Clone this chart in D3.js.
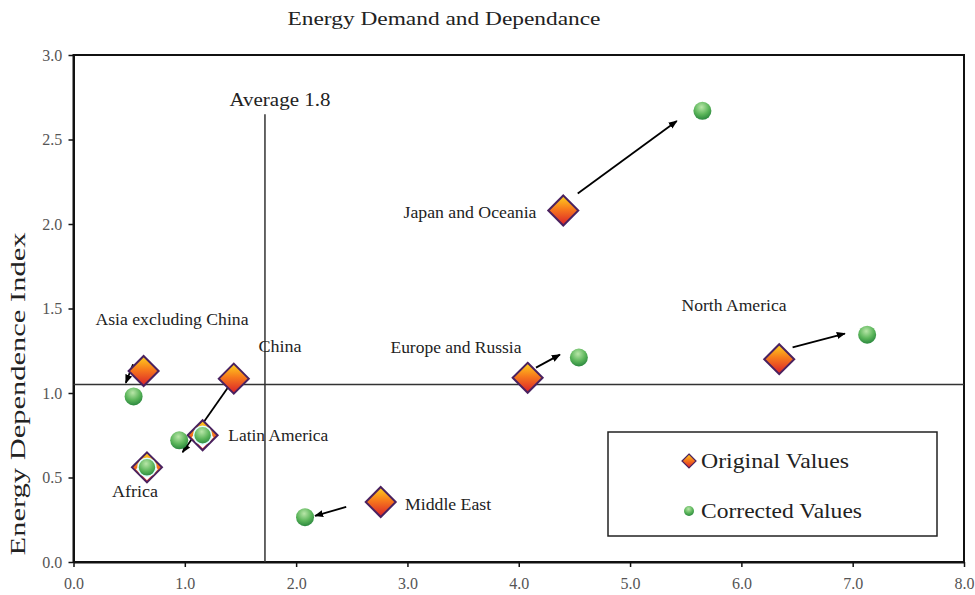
<!DOCTYPE html>
<html><head><meta charset="utf-8">
<script src="https://cdn.jsdelivr.net/npm/d3@7"></script>
<style>body{margin:0;background:#fff}text{font-family:"Liberation Serif","Times New Roman",serif}</style>
</head><body><svg id="c" width="975" height="595"></svg>
<script>
const regions = ["Asia excluding China","China","Latin America","Africa","Middle East","Europe and Russia","Japan and Oceania","North America"];
const origX = [0.63,1.44,1.16,0.66,2.76,4.08,4.40,6.34];
const origY = [1.13,1.085,0.75,0.56,0.355,1.09,2.08,1.20];
const corrX = [0.54,0.95,1.16,0.66,2.08,4.54,5.65,7.13];
const corrY = [0.98,0.72,0.75,0.56,0.265,1.21,2.67,1.345];
const arrowFromX = [0.535,1.40,null,null,2.45,4.155,4.53,6.46];
const arrowFromY = [1.17,1.045,null,null,0.326,1.15,2.18,1.27];
const arrowToX = [0.47,0.98,null,null,2.17,4.37,5.42,6.93];
const arrowToY = [1.06,0.65,null,null,0.273,1.227,2.61,1.352];
const labelX = [0.885,1.855,1.84,0.553,3.365,3.436,3.562,5.934];
const labelY = [1.405,1.245,0.717,0.385,0.308,1.239,2.033,1.488];
const labelLen = [153,43,100,46,86,131,133,105];
const xTicks = [0,1,2,3,4,5,6,7,8];
const yTicks = [0,0.5,1,1.5,2,2.5,3];
const avgX = 1.72, avgLabel = "Average 1.8", avgTop = 2.65;
const hLineY = 1.05;
const title = "Energy Demand and Dependance";
const yTitle = "Energy Dependence Index";
const legendLabels = ["Original Values","Corrected Values"];
const legendLen = [148,161];

const svg = d3.select("#c");
const L=73.5,R=964,T=55,B=562;
const x = d3.scaleLinear().domain([0,8]).range([L,R]);
const y = d3.scaleLinear().domain([0,3]).range([B,T]);

const defs = svg.append("defs");
const dg = defs.append("linearGradient").attr("id","dg").attr("x1",0).attr("y1",0).attr("x2",0).attr("y2",1);
dg.append("stop").attr("offset","0%").attr("stop-color","#ffd21e");
dg.append("stop").attr("offset","45%").attr("stop-color","#f77a1c");
dg.append("stop").attr("offset","100%").attr("stop-color","#d81e2c");
const cg = defs.append("radialGradient").attr("id","cg").attr("cx","45%").attr("cy","30%").attr("r","75%");
cg.append("stop").attr("offset","0%").attr("stop-color","#b8e6a8");
cg.append("stop").attr("offset","55%").attr("stop-color","#5bb55a");
cg.append("stop").attr("offset","100%").attr("stop-color","#23803a");
defs.append("marker").attr("id","ah").attr("viewBox","0 0 10 10").attr("refX",9).attr("refY",5)
  .attr("markerWidth",9).attr("markerHeight",9).attr("markerUnits","userSpaceOnUse").attr("orient","auto")
  .append("path").attr("d","M0,1 L10,5 L0,9 Z").attr("fill","#000");

svg.append("text").attr("x",444).attr("y",25).attr("text-anchor","middle").attr("font-size",19).attr("fill","#222")
  .attr("textLength",313).attr("lengthAdjust","spacingAndGlyphs").text(title);

// frame
svg.append("rect").attr("x",L).attr("y",T).attr("width",R-L).attr("height",B-T).attr("fill","none").attr("stroke","#111").attr("stroke-width",2);

const xa = svg.append("g").attr("transform",`translate(0,${B})`).call(d3.axisBottom(x).tickValues(xTicks).tickFormat(d3.format(".1f")).tickSize(5).tickSizeOuter(0));
const ya = svg.append("g").attr("transform",`translate(${L},0)`).call(d3.axisLeft(y).tickValues(yTicks).tickFormat(d3.format(".1f")).tickSize(5).tickSizeOuter(0));
[xa,ya].forEach(a=>{a.select(".domain").attr("stroke","#111").attr("stroke-width",2);
  a.selectAll(".tick line").attr("stroke","#111").attr("stroke-width",1.5);
  a.selectAll(".tick text").attr("font-family","Liberation Serif, serif").attr("font-size",16).attr("fill","#555");});
xa.selectAll(".tick text").attr("dy","1.2em");
ya.selectAll(".tick text").attr("dx","-0.2em");

svg.append("text").attr("transform",`translate(25,${394}) rotate(-90)`).attr("text-anchor","middle").attr("font-size",22).attr("fill","#222")
  .attr("textLength",323).attr("lengthAdjust","spacingAndGlyphs").text(yTitle);

// reference lines
svg.append("line").attr("x1",x(0)).attr("x2",x(8)).attr("y1",y(hLineY)).attr("y2",y(hLineY)).attr("stroke","#333").attr("stroke-width",1.5);
svg.append("line").attr("x1",x(avgX)).attr("x2",x(avgX)).attr("y1",y(0)).attr("y2",y(avgTop)).attr("stroke","#333").attr("stroke-width",1.5);
svg.append("text").attr("x",x(avgX)+15).attr("y",y(avgTop)-8).attr("text-anchor","middle").attr("font-size",19).attr("fill","#222")
  .attr("textLength",101).attr("lengthAdjust","spacingAndGlyphs").text(avgLabel);

const idx = d3.range(regions.length);
const dia = s=>`M0,${-s} L${s},0 L0,${s} L${-s},0 Z`;

// arrows
svg.selectAll(".arr").data(idx.filter(i=>arrowFromX[i]!==null)).join("line")
  .attr("x1",i=>x(arrowFromX[i])).attr("y1",i=>y(arrowFromY[i]))
  .attr("x2",i=>x(arrowToX[i])).attr("y2",i=>y(arrowToY[i]))
  .attr("stroke","#000").attr("stroke-width",1.8).attr("marker-end","url(#ah)");

// diamonds
svg.selectAll(".d").data(idx).join("path")
  .attr("transform",i=>`translate(${x(origX[i])},${y(origY[i])})`)
  .attr("d",dia(15)).attr("fill","url(#dg)").attr("stroke","#4a2260").attr("stroke-width",2);
// halo for overlapping
svg.selectAll(".h").data(idx.filter(i=>corrX[i]===origX[i]&&corrY[i]===origY[i])).join("path")
  .attr("transform",i=>`translate(${x(origX[i])},${y(origY[i])+2})`)
  .attr("d",dia(11)).attr("fill","#fff");
// circles
svg.selectAll(".c").data(idx).join("circle")
  .attr("cx",i=>x(corrX[i])).attr("cy",i=>y(corrY[i])).attr("r",9)
  .attr("fill","url(#cg)").attr("stroke",i=>(corrX[i]===origX[i])?"#dff":"none").attr("stroke-width",1.5);

// labels
svg.selectAll(".lb").data(idx).join("text")
  .attr("x",i=>x(labelX[i])).attr("y",i=>y(labelY[i])).attr("text-anchor","middle")
  .attr("font-size",16).attr("fill","#222")
  .attr("textLength",i=>labelLen[i]).attr("lengthAdjust","spacingAndGlyphs").text(i=>regions[i]);

// legend
const lg = svg.append("g");
lg.append("rect").attr("x",608).attr("y",432).attr("width",329).attr("height",104).attr("fill","#fff").attr("stroke","#222").attr("stroke-width",1.5);
lg.append("path").attr("transform","translate(689,461)").attr("d",dia(7)).attr("fill","url(#dg)").attr("stroke","#4a2260").attr("stroke-width",1.2);
lg.append("circle").attr("cx",689).attr("cy",511).attr("r",5).attr("fill","url(#cg)");
lg.selectAll(".lt").data(legendLabels).join("text").attr("x",701).attr("y",(d,i)=>468+i*50)
  .attr("font-size",22).attr("fill","#222")
  .attr("textLength",(d,i)=>legendLen[i]).attr("lengthAdjust","spacingAndGlyphs").text(d=>d);
</script></body></html>
